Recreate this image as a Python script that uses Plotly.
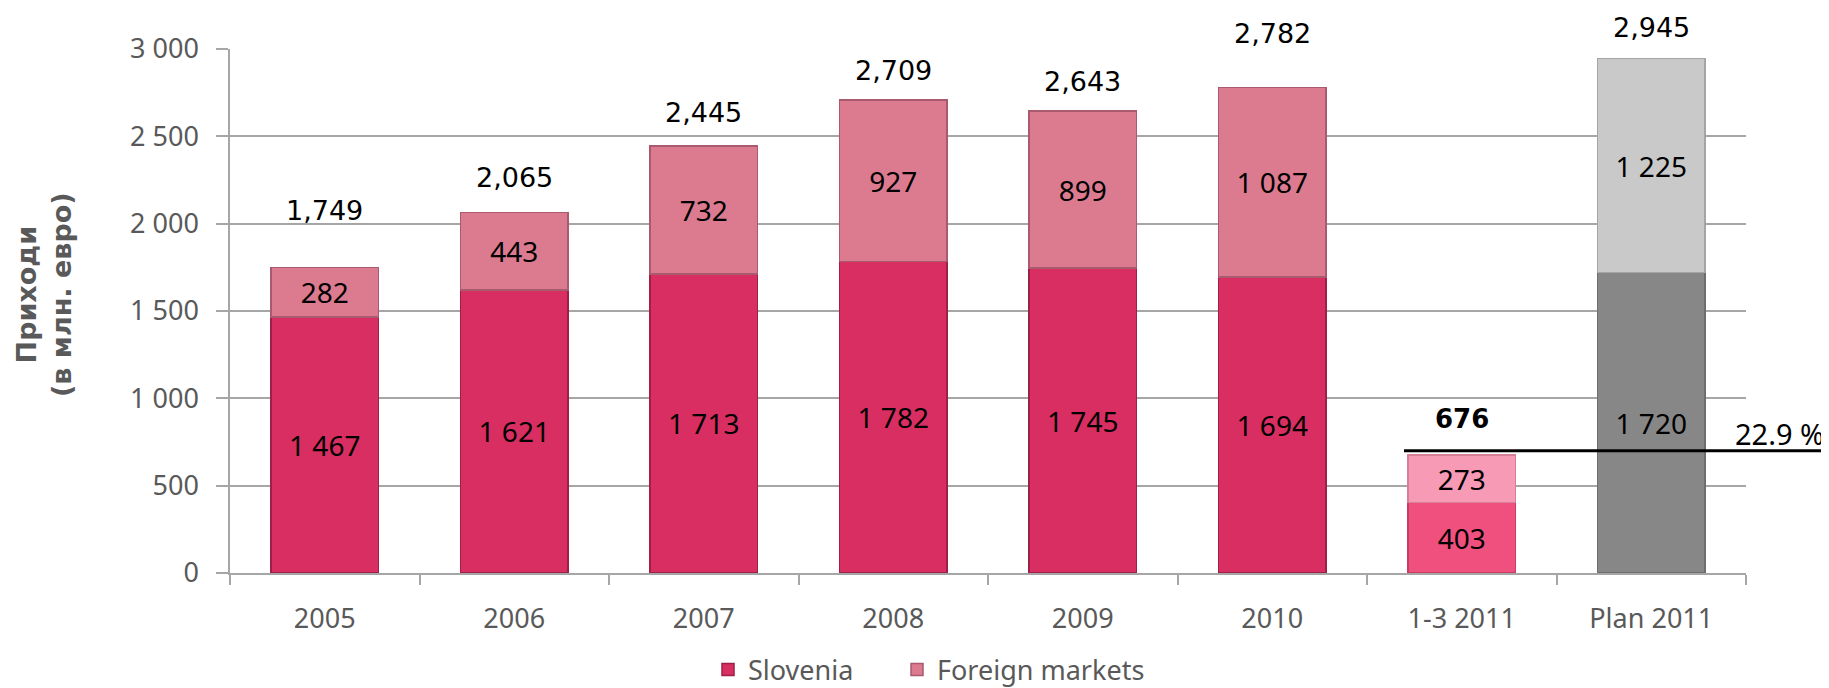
import plotly.graph_objects as go

categories = ["2005", "2006", "2007", "2008", "2009", "2010", "1-3 2011", "Plan 2011"]
slovenia = [1467, 1621, 1713, 1782, 1745, 1694, 403, 1720]
foreign = [282, 443, 732, 927, 899, 1087, 273, 1225]
total_labels = ["1,749", "2,065", "2,445", "2,709", "2,643", "2,782", "676", "2,945"]
share_label = "22.9 %"
share_line_value = 700
y_title = "<b>Приходи<br>(в млн. евро)</b>"

# styles (kept separate from data)
slo_colors = ["#D92E61"] * 6 + ["#F0507E", "#878787"]
slo_edges = ["#9E1F47"] * 6 + ["#C83C64", "#6E6E6E"]
for_colors = ["#DC7B90"] * 6 + ["#F79AB5", "#C9C9C9"]
for_edges = ["#A95A6E"] * 6 + ["#D87F98", "#A5A5A5"]
label_shift = [57, 35, 33, 29, 30, 54, 36, 31]
label_bold = [False] * 6 + [True, False]

W, H = 1821, 680
ML, MR, MT, MB = 222, 83, 41, 115
PW, PH = W - ML - MR, H - MT - MB

def fmt(v):
    return f"{v:,}".replace(",", " ")

def px_x(x):  # figure pixel -> paper x
    return (x - ML) / PW

def px_y(y):  # figure pixel -> paper y
    return (H - MB - y) / PH

TICK_FONT = dict(family="Noto Sans", size=27, color="#595959")
IN_FONT = dict(family="Noto Sans", size=28, color="#000000")
LEG_FONT = dict(family="Noto Sans", size=27, color="#595959")

fig = go.Figure()
fig.add_trace(go.Bar(
    name="Slovenia", x=categories, y=slovenia,
    text=[fmt(v) for v in slovenia],
    textposition="inside", insidetextanchor="middle", textangle=0,
    constraintext="none", textfont=IN_FONT,
    marker=dict(color=slo_colors, line=dict(color=slo_edges, width=1.5)),
    legend="legend",
))
fig.add_trace(go.Bar(
    name="Foreign markets", x=categories, y=foreign,
    text=[fmt(v) for v in foreign],
    textposition="inside", insidetextanchor="middle", textangle=0,
    constraintext="none", textfont=IN_FONT,
    marker=dict(color=for_colors, line=dict(color=for_edges, width=1.5)),
    legend="legend2",
))

totals = [a + b for a, b in zip(slovenia, foreign)]
for i, (tot, lab, sh, bold) in enumerate(zip(totals, total_labels, label_shift, label_bold)):
    fig.add_annotation(
        x=i, y=tot, text=f"<b>{lab}</b>" if bold else lab,
        showarrow=False, yanchor="middle", yshift=sh,
        font=dict(family="DejaVu Sans", size=26 if bold else 27, color="#000000"),
    )

# share line and label
fig.add_shape(type="line", xref="paper", yref="y",
              x0=px_x(1396), x1=1.06, y0=share_line_value, y1=share_line_value,
              line=dict(color="#000000", width=3))
fig.add_annotation(xref="paper", yref="paper", x=px_x(1818), y=px_y(425),
                   xanchor="right", yanchor="middle", showarrow=False,
                   text=share_label,
                   font=dict(family="Noto Sans", size=29, color="#000000"))

# y-axis title
fig.add_annotation(xref="paper", yref="paper", x=px_x(36), y=px_y(287),
                   xanchor="center", yanchor="middle", showarrow=False,
                   textangle=-90, text=y_title,
                   font=dict(family="DejaVu Sans", size=27, color="#595959"))

fig.update_layout(
    barmode="stack",
    bargap=0.434,
    width=W, height=H,
    margin=dict(l=ML, r=MR, t=MT, b=MB, autoexpand=False),
    paper_bgcolor="white", plot_bgcolor="white",
    separators=". ",
    showlegend=True,
    legend=dict(orientation="h", x=px_x(700), xanchor="left", y=px_y(662), yanchor="middle",
                font=LEG_FONT, bgcolor="rgba(0,0,0,0)"),
    legend2=dict(orientation="h", x=px_x(889), xanchor="left", y=px_y(662), yanchor="middle",
                 font=LEG_FONT, bgcolor="rgba(0,0,0,0)"),
    font=dict(family="Noto Sans"),
)
fig.update_yaxes(
    range=[0, 3000], dtick=500, tick0=0,
    tickformat=",d", separatethousands=True,
    showgrid=True, gridcolor="#A6A6A6", gridwidth=1.5,
    showline=True, linecolor="#A6A6A6", linewidth=1.5,
    ticks="outside", ticklen=12, tickcolor="#A6A6A6", tickwidth=1.5,
    ticklabelstandoff=12, automargin=False,
    zeroline=False,
    tickfont=TICK_FONT,
)
fig.update_xaxes(
    type="category",
    categoryorder="array", categoryarray=categories,
    range=[-0.5, len(categories) - 0.5],
    showline=True, linecolor="#A6A6A6", linewidth=1.5,
    ticks="outside", tickson="boundaries", ticklen=10, tickcolor="#A6A6A6", tickwidth=1.5,
    ticklabelstandoff=21, tickangle=0, automargin=False,
    tickfont=TICK_FONT,
)

fig.write_html("out.html")
